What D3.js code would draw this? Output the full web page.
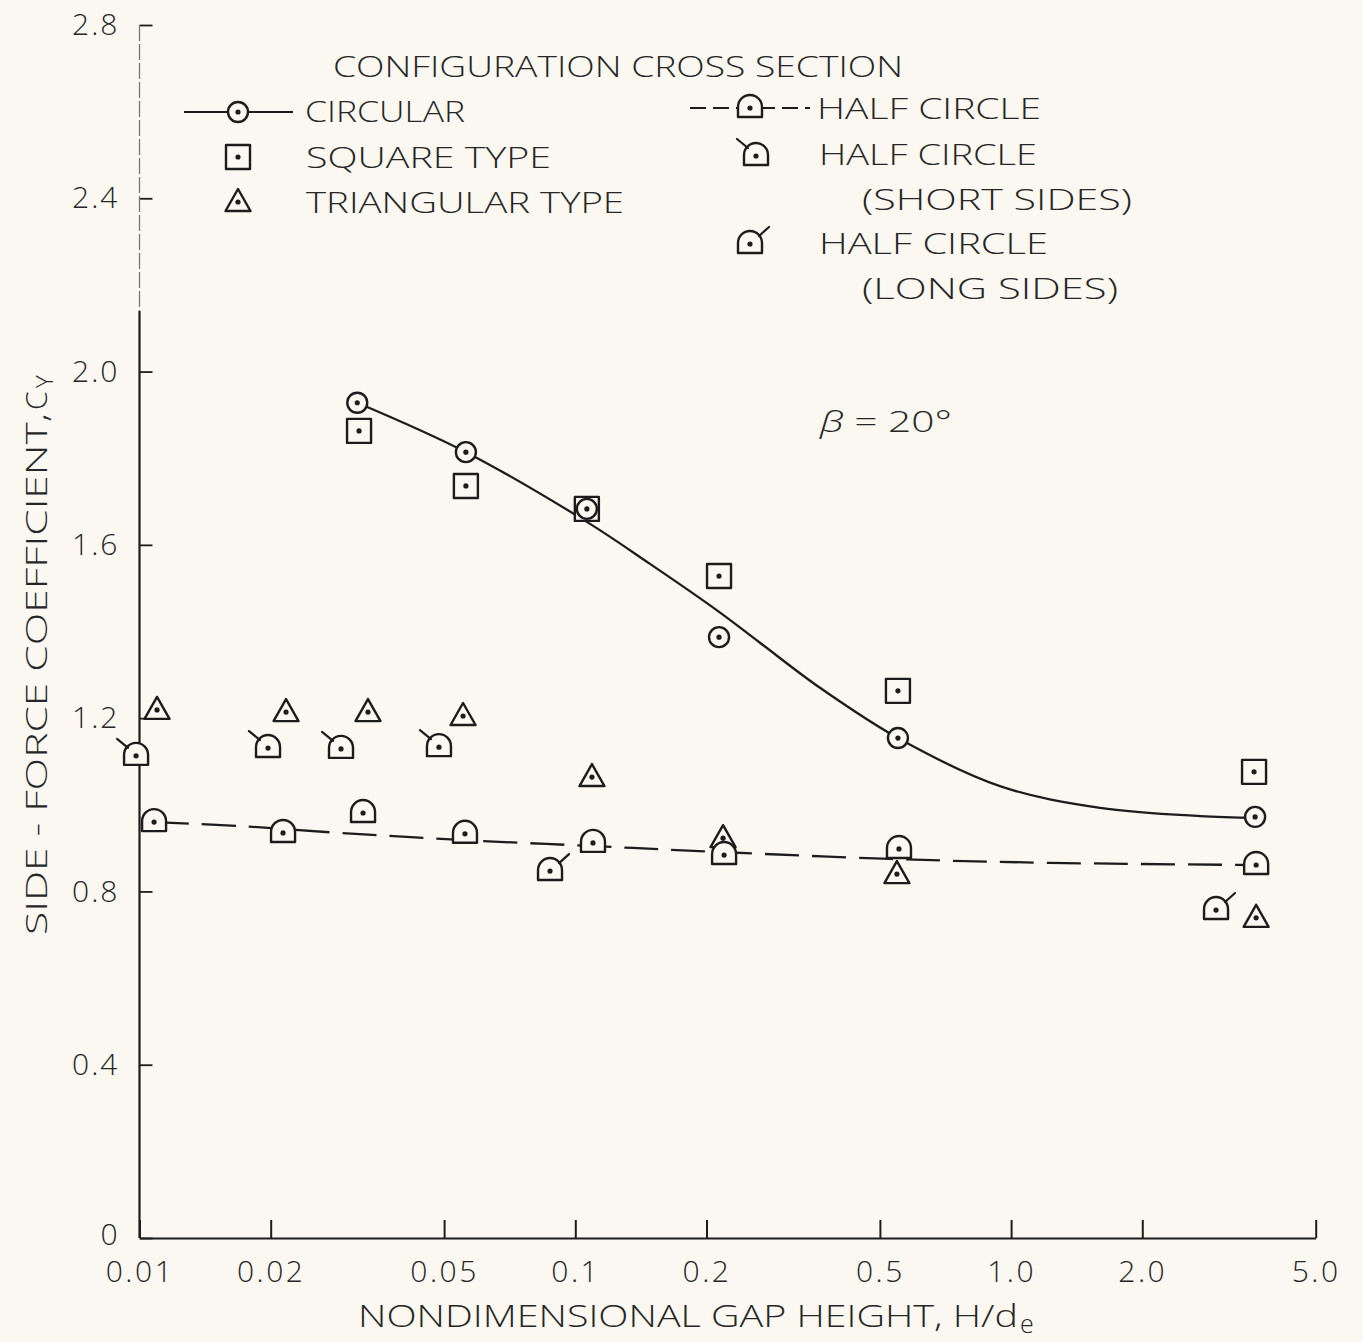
<!DOCTYPE html>
<html><head><meta charset="utf-8">
<script src="https://cdn.jsdelivr.net/npm/d3@7"></script>
<style>
html,body{margin:0;padding:0;background:#fbf8f1;}
svg{display:block;}
text{font-family:"Open Sans","DejaVu Sans",sans-serif;font-weight:350;fill:#262626;}
</style></head><body>
<svg id="chart" width="1363" height="1342"></svg>
<script>
// ---------- data ----------
const xTickValues = [0.01, 0.02, 0.05, 0.1, 0.2, 0.5, 1.0, 2.0, 5.0];
const xTickLabels = ["0.01", "0.02", "0.05", "0.1", "0.2", "0.5", "1.0", "2.0", "5.0"];
const yTickValues = [0, 0.4, 0.8, 1.2, 1.6, 2.0, 2.4, 2.8];
const yTickLabels = ["0", "0.4", "0.8", "1.2", "1.6", "2.0", "2.4", "2.8"];

const circularX = [0.0316, 0.0561, 0.1063, 0.2137, 0.550, 3.63];
const circularY = [1.928, 1.814, 1.683, 1.387, 1.154, 0.972];
const circularFitX = [0.0316, 0.0561, 0.1063, 0.1484, 0.2126, 0.2653, 0.3643, 0.550, 0.943, 1.600, 2.713, 3.63];
const circularFitY = [1.928, 1.814, 1.653, 1.556, 1.447, 1.374, 1.270, 1.154, 1.043, 0.993, 0.974, 0.970];

const squareX = [0.0319, 0.0561, 0.1063, 0.2137, 0.550, 3.61];
const squareY = [1.863, 1.736, 1.683, 1.528, 1.263, 1.076];

const triangleX = [0.01097, 0.02169, 0.03344, 0.05526, 0.1092, 0.2183, 0.547, 3.65];
const triangleY = [1.219, 1.214, 1.214, 1.205, 1.064, 0.923, 0.840, 0.739];

const halfX = [0.0108, 0.02135, 0.03258, 0.05583, 0.1098, 0.2195, 0.553, 3.65];
const halfY = [0.960, 0.935, 0.981, 0.933, 0.912, 0.884, 0.898, 0.861];
const halfFitX = [0.01085, 0.0170, 0.02884, 0.05438, 0.1081, 0.2148, 0.5274, 1.228, 3.65];
const halfFitY = [0.960, 0.951, 0.935, 0.919, 0.905, 0.891, 0.875, 0.866, 0.861];

const shortSidesX = [0.00982, 0.01972, 0.0290, 0.04866];
const shortSidesY = [1.113, 1.131, 1.129, 1.133];

const longSidesX = [0.0875, 2.953];
const longSidesY = [0.847, 0.757];

// ---------- setup ----------
const INK = "#1c1c1c";
const BG = "#fbf8f1";
const svg = d3.select("#chart");
svg.append("rect").attr("width", 1363).attr("height", 1342).attr("fill", BG);

const x = d3.scaleLog().domain([0.01, 5]).range([139.5, 1315.7]);
const y = d3.scaleLinear().domain([0, 2.8]).range([1238, 25]);

// ---------- axes ----------
const xAxis = svg.append("g").attr("transform", "translate(0,1238)")
  .call(d3.axisBottom(x).tickValues(xTickValues).tickFormat((d, i) => xTickLabels[i])
    .tickSize(-18).tickSizeOuter(0).tickPadding(23));
xAxis.select(".domain").attr("stroke", INK).attr("stroke-width", 2.2);
xAxis.selectAll(".tick line").attr("stroke", INK).attr("stroke-width", 2);
xAxis.selectAll(".tick text").attr("font-size", 30).attr("fill", "#262626")
  .attr("font-family", null).attr("letter-spacing", 2.5);

const yAxis = svg.append("g").attr("transform", "translate(139.5,0)")
  .call(d3.axisLeft(y).tickValues(yTickValues).tickFormat((d, i) => yTickLabels[i])
    .tickSize(-13).tickSizeOuter(0).tickPadding(20));
yAxis.select(".domain").remove();
yAxis.selectAll(".tick line").attr("stroke", INK).attr("stroke-width", 1.8);
yAxis.selectAll(".tick text").attr("font-size", 30).attr("fill", "#303030")
  .attr("font-family", null).attr("letter-spacing", 2);
yAxis.selectAll(".tick").filter(d => d === 0).select("text").attr("dy", "0.2em");
// y axis line: faint upper part, solid lower part
yAxis.append("line").attr("x1", 0).attr("x2", 0).attr("y1", y(2.8)).attr("y2", y(2.14))
  .attr("stroke", "#777").attr("stroke-width", 1.3).attr("stroke-dasharray", "16,3");
yAxis.append("line").attr("x1", 0).attr("x2", 0).attr("y1", y(2.14)).attr("y2", y(0))
  .attr("stroke", INK).attr("stroke-width", 2.2);

// ---------- lines ----------
const lineGen = d3.line().x(d => x(d[0])).y(d => y(d[1])).curve(d3.curveCatmullRom.alpha(0.5));
svg.append("path").datum(d3.zip(circularFitX, circularFitY)).attr("d", lineGen)
  .attr("fill", "none").attr("stroke", INK).attr("stroke-width", 2.3);
svg.append("path").datum(d3.zip(halfFitX, halfFitY)).attr("d", lineGen)
  .attr("fill", "none").attr("stroke", INK).attr("stroke-width", 2.3)
  .attr("stroke-dasharray", "34,13");

// ---------- markers ----------
const domePath = "M-12,9 L-12,-1 A12,12 0 0 1 12,-1 L12,9 Z";
const triPath = "M0,-13 L12.5,9 L-12.5,9 Z";
const sqPath = "M-12,-12 H12 V12 H-12 Z";

function marker(g, shape) {
  if (shape === "circle") {
    g.append("circle").attr("r", 10).attr("fill", BG).attr("stroke", INK).attr("stroke-width", 2.4);
  } else {
    const p = shape === "square" ? sqPath : shape === "triangle" ? triPath : domePath;
    g.append("path").attr("d", p).attr("fill", BG).attr("stroke", INK)
      .attr("stroke-width", 2.4).attr("stroke-linejoin", "round");
  }
  if (shape === "short") {
    g.append("line").attr("x1", -8).attr("y1", -8).attr("x2", -19).attr("y2", -17)
      .attr("stroke", INK).attr("stroke-width", 2.2).attr("stroke-linecap", "round");
  }
  if (shape === "long") {
    g.append("line").attr("x1", 9).attr("y1", -8).attr("x2", 19).attr("y2", -17)
      .attr("stroke", INK).attr("stroke-width", 2.2).attr("stroke-linecap", "round");
  }
  g.append("circle").attr("r", 2.6).attr("fill", INK);
}

function series(xs, ys, shape) {
  svg.append("g").selectAll("g").data(d3.zip(xs, ys)).join("g")
    .attr("transform", d => `translate(${x(d[0])},${y(d[1])})`)
    .each(function () { marker(d3.select(this), shape); });
}
series(squareX, squareY, "square");
series(triangleX, triangleY, "triangle");
series(halfX, halfY, "half");
series(shortSidesX, shortSidesY, "short");
series(longSidesX, longSidesY, "long");
series(circularX, circularY, "circle");

// ---------- legend ----------
function txt(str, x0, yb, len, size) {
  return svg.append("text").attr("x", x0).attr("y", yb).attr("font-size", size || 30)
    .attr("textLength", len).attr("lengthAdjust", "spacingAndGlyphs").text(str);
}
txt("CONFIGURATION  CROSS  SECTION", 333, 77, 570);
svg.append("line").attr("x1", 184).attr("x2", 293).attr("y1", 112).attr("y2", 112)
  .attr("stroke", INK).attr("stroke-width", 2.2);
marker(svg.append("g").attr("transform", "translate(238,112)"), "circle");
txt("CIRCULAR", 305, 122, 160);
marker(svg.append("g").attr("transform", "translate(238,157)"), "square");
txt("SQUARE  TYPE", 306, 168, 245);
marker(svg.append("g").attr("transform", "translate(238,202)"), "triangle");
txt("TRIANGULAR  TYPE", 306, 213, 318);

svg.append("line").attr("x1", 690).attr("x2", 810).attr("y1", 108).attr("y2", 108)
  .attr("stroke", INK).attr("stroke-width", 2.2).attr("stroke-dasharray", "16,7");
marker(svg.append("g").attr("transform", "translate(750,108)"), "half");
txt("HALF  CIRCLE", 817, 119, 224);
marker(svg.append("g").attr("transform", "translate(756,156)"), "short");
txt("HALF  CIRCLE", 819, 165, 218);
txt("(SHORT  SIDES)", 862, 210, 270);
marker(svg.append("g").attr("transform", "translate(750,244)"), "long");
txt("HALF  CIRCLE", 819, 254, 229);
txt("(LONG  SIDES)", 862, 299, 256);

// beta annotation
const bt = svg.append("text").attr("x", 820).attr("y", 432).attr("font-size", 30)
  .attr("textLength", 132).attr("lengthAdjust", "spacingAndGlyphs");
bt.append("tspan").attr("font-style", "italic").text("β");
bt.append("tspan").text(" = 20°");

// ---------- axis titles ----------
txt("NONDIMENSIONAL  GAP  HEIGHT,  H/d", 358, 1327, 660, 31);
svg.append("text").attr("x", 1020).attr("y", 1333).attr("font-size", 25).text("e");

const yt = svg.append("g").attr("transform", "translate(47,935) rotate(-90)");
yt.append("text").attr("x", 0).attr("y", 0).attr("font-size", 30)
  .attr("textLength", 522).attr("lengthAdjust", "spacingAndGlyphs")
  .text("SIDE - FORCE  COEFFICIENT,");
yt.append("text").attr("x", 525).attr("y", 0).attr("font-size", 30).text("C");
yt.append("text").attr("x", 547).attr("y", 6).attr("font-size", 24).text("Y");
</script>
</body></html>
